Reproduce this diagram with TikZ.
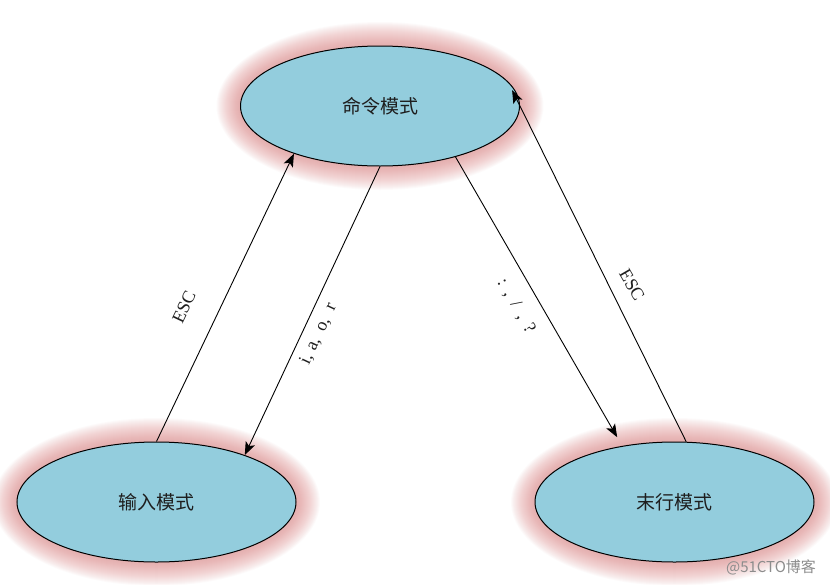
\documentclass[tikz,border=0pt]{standalone}
\usepackage{fontspec}
\setmainfont{Liberation Serif}
\newfontfamily\cjk{Noto Sans CJK SC}
\usetikzlibrary{arrows.meta,shapes.geometric}
\definecolor{modefill}{RGB}{147,205,221}
\definecolor{glowcol}{RGB}{222,130,130}
\definecolor{txtcol}{RGB}{30,30,30}
\tikzset{
  mode/.style={ellipse, draw=black, line width=1pt, fill=modefill,
    minimum width=279pt, minimum height=120pt, inner sep=0pt,
    font=\cjk\fontsize{19}{19}\selectfont, text=txtcol},
  arr/.style={line width=0.9pt, -{Stealth[length=13pt,width=10pt,inset=3pt]}},
  lbl/.style={inner sep=0pt, font=\fontsize{18}{18}\selectfont, text=txtcol},
  glowring/.style={fill=glowcol, fill opacity=0.035},
}
\newcommand{\glowat}[1]{%
  \foreach \g in {24,23,...,0}{%
    \fill[glowring] #1 ellipse [x radius={139.5+\g}, y radius={60+\g}];
  }%
}
\begin{document}
\begin{tikzpicture}[x=1pt,y=-1pt]
\useasboundingbox[fill=white] (0,0) rectangle (830,584);
\glowat{(380,106)}
\glowat{(156.5,502)}
\glowat{(674.5,502)}
\node[mode] (top) at (380,106) {命令模式};
\node[mode] (bl) at (156.5,502) {输入模式};
\node[mode] (br) at (674.5,502) {末行模式};
\draw[arr] (bl.north) -- (top.209);
\draw[arr] (top.south) -- (bl.28);
\draw[arr, shorten >=10pt] (top.326) -- (br.133);
\draw[arr, shorten >=10pt] (br.79) -- (top.11);
\node[lbl, rotate=64.7] (escl) at (184,307) {ESC};
\node[lbl, rotate=65] (iaor) at (318.5,334) {i,\hspace{0.3em}a,\hspace{0.5em}o,\hspace{0.5em}r};
\node[lbl, rotate=-60] (colon) at (516,306) {:\hspace{0.45em},\hspace{0.45em}/\hspace{0.45em},\hspace{0.45em}?};
\node[lbl, rotate=-60] (escr) at (632,285) {ESC};
\node[inner sep=0pt, font=\cjk\fontsize{15}{15}\selectfont, text=black!45] (wm) at (771,567) {@51CTO博客};
\end{tikzpicture}
\end{document}
